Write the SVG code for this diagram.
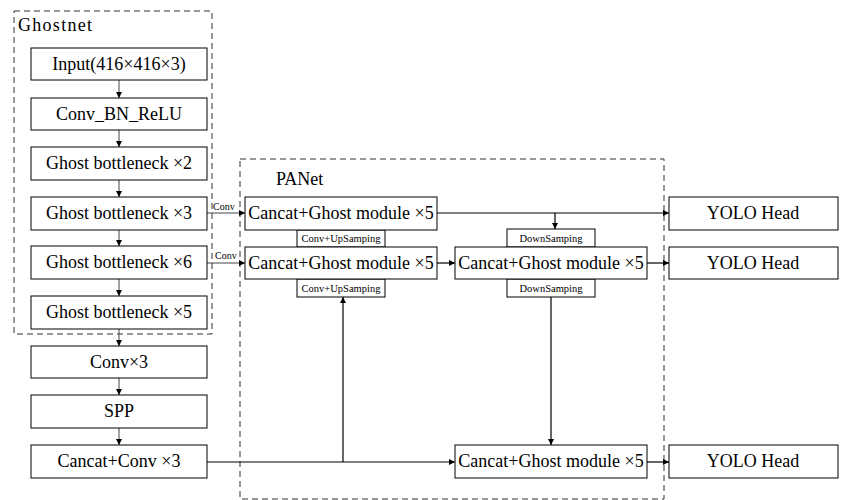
<svg xmlns="http://www.w3.org/2000/svg" width="842" height="500" viewBox="0 0 842 500" font-family="Liberation Serif, Times New Roman, serif">
<defs>
<marker id="ah" viewBox="0 0 6 6" refX="6" refY="3" markerWidth="6" markerHeight="6" markerUnits="userSpaceOnUse" orient="auto">
<path d="M0,0 L6,3 L0,6 Z" fill="#000"/>
</marker>
<style>
.box{fill:#fff;stroke:#000;stroke-width:1}
.grp{fill:none;stroke:#333;stroke-width:1;stroke-dasharray:6,4}
.t{font-family:'Liberation Serif',serif;font-size:18px;fill:#000;text-anchor:middle}
.s{font-family:'Liberation Serif',serif;font-size:10.5px;fill:#000;text-anchor:middle}
.c{font-family:'Liberation Serif',serif;font-size:10px;fill:#000}
.ln{fill:none;stroke:#000;stroke-width:1.2}
.lg{fill:none;stroke:#444;stroke-width:1}
</style>
</defs>
<rect id="ghostnet" class="grp" x="14" y="11" width="198" height="323"/>
<text class="t" x="18" y="31" style="text-anchor:start" textLength="74">Ghostnet</text>
<rect id="panet" class="grp" x="240" y="159" width="424" height="340"/>
<text class="t" x="276" y="185" style="text-anchor:start">PANet</text>

<g id="connectors">
<line class="lg" x1="119" y1="80" x2="119" y2="98" marker-end="url(#ah)"/>
<line class="lg" x1="119" y1="130" x2="119" y2="147" marker-end="url(#ah)"/>
<line class="lg" x1="119" y1="180" x2="119" y2="197" marker-end="url(#ah)"/>
<line class="lg" x1="119" y1="230" x2="119" y2="246" marker-end="url(#ah)"/>
<line class="lg" x1="119" y1="279" x2="119" y2="296" marker-end="url(#ah)"/>
<line class="lg" x1="119" y1="329" x2="119" y2="346" marker-end="url(#ah)"/>
<line class="lg" x1="119" y1="378" x2="119" y2="395" marker-end="url(#ah)"/>
<line class="lg" x1="119" y1="428" x2="119" y2="445" marker-end="url(#ah)"/>
<line class="lg" x1="207" y1="213" x2="245" y2="213" marker-end="url(#ah)"/>
<line class="lg" x1="207" y1="263" x2="245" y2="263" marker-end="url(#ah)"/>
<line class="ln" x1="437" y1="213" x2="669" y2="213" marker-end="url(#ah)"/>
<line class="ln" x1="555" y1="213" x2="555" y2="229" marker-end="url(#ah)"/>
<line class="ln" x1="437" y1="263" x2="455" y2="263" marker-end="url(#ah)"/>
<line class="ln" x1="647" y1="263" x2="669" y2="263" marker-end="url(#ah)"/>
<line class="ln" x1="551" y1="297" x2="551" y2="445" marker-end="url(#ah)"/>
<line class="ln" x1="207" y1="462" x2="455" y2="462" marker-end="url(#ah)"/>
<line class="ln" x1="343" y1="462" x2="343" y2="297" marker-end="url(#ah)"/>
<line class="ln" x1="647" y1="462" x2="669" y2="462" marker-end="url(#ah)"/>
</g>
<text class="c" x="213" y="210">Conv</text>
<text class="c" x="215" y="259">Conv</text>

<g id="n-input"><rect class="box" x="31" y="48" width="176" height="32"/><text class="t" x="119" y="70">Input(416×416×3)</text></g>
<g id="n-cbr"><rect class="box" x="31" y="98" width="176" height="32"/><text class="t" x="119" y="120">Conv_BN_ReLU</text></g>
<g id="n-gb2"><rect class="box" x="31" y="147" width="176" height="33"/><text class="t" x="119" y="169">Ghost bottleneck ×2</text></g>
<g id="n-gb3"><rect class="box" x="31" y="197" width="176" height="33"/><text class="t" x="119" y="219">Ghost bottleneck ×3</text></g>
<g id="n-gb6"><rect class="box" x="31" y="246" width="176" height="33"/><text class="t" x="119" y="268">Ghost bottleneck ×6</text></g>
<g id="n-gb5"><rect class="box" x="31" y="296" width="176" height="33"/><text class="t" x="119" y="318">Ghost bottleneck ×5</text></g>
<g id="n-conv3"><rect class="box" x="31" y="346" width="176" height="32"/><text class="t" x="119" y="368">Conv×3</text></g>
<g id="n-spp"><rect class="box" x="31" y="395" width="176" height="33"/><text class="t" x="119" y="417">SPP</text></g>
<g id="n-cc3"><rect class="box" x="31" y="445" width="176" height="33"/><text class="t" x="119" y="467">Cancat+Conv ×3</text></g>

<g id="n-up1"><rect class="box" x="297" y="230" width="88" height="17"/><text class="s" x="341" y="242">Conv+UpSamping</text></g>
<g id="n-up2"><rect class="box" x="297" y="279" width="88" height="18"/><text class="s" x="341" y="292">Conv+UpSamping</text></g>
<g id="n-down1"><rect class="box" x="507" y="229" width="88" height="18"/><text class="s" x="551" y="242">DownSamping</text></g>
<g id="n-down2"><rect class="box" x="507" y="279" width="88" height="18"/><text class="s" x="551" y="292">DownSamping</text></g>

<g id="n-pa1"><rect class="box" x="245" y="197" width="192" height="33"/><text class="t" x="341" y="219">Cancat+Ghost module ×5</text></g>
<g id="n-pa2"><rect class="box" x="245" y="247" width="192" height="32"/><text class="t" x="341" y="269">Cancat+Ghost module ×5</text></g>
<g id="n-pa3"><rect class="box" x="455" y="247" width="192" height="32"/><text class="t" x="551" y="269">Cancat+Ghost module ×5</text></g>
<g id="n-pa4"><rect class="box" x="455" y="445" width="192" height="33"/><text class="t" x="551" y="467">Cancat+Ghost module ×5</text></g>

<g id="n-yolo1"><rect class="box" x="669" y="197" width="169" height="33"/><text class="t" x="753" y="219">YOLO Head</text></g>
<g id="n-yolo2"><rect class="box" x="669" y="247" width="169" height="32"/><text class="t" x="753" y="269">YOLO Head</text></g>
<g id="n-yolo3"><rect class="box" x="669" y="445" width="169" height="33"/><text class="t" x="753" y="467">YOLO Head</text></g>
</svg>
